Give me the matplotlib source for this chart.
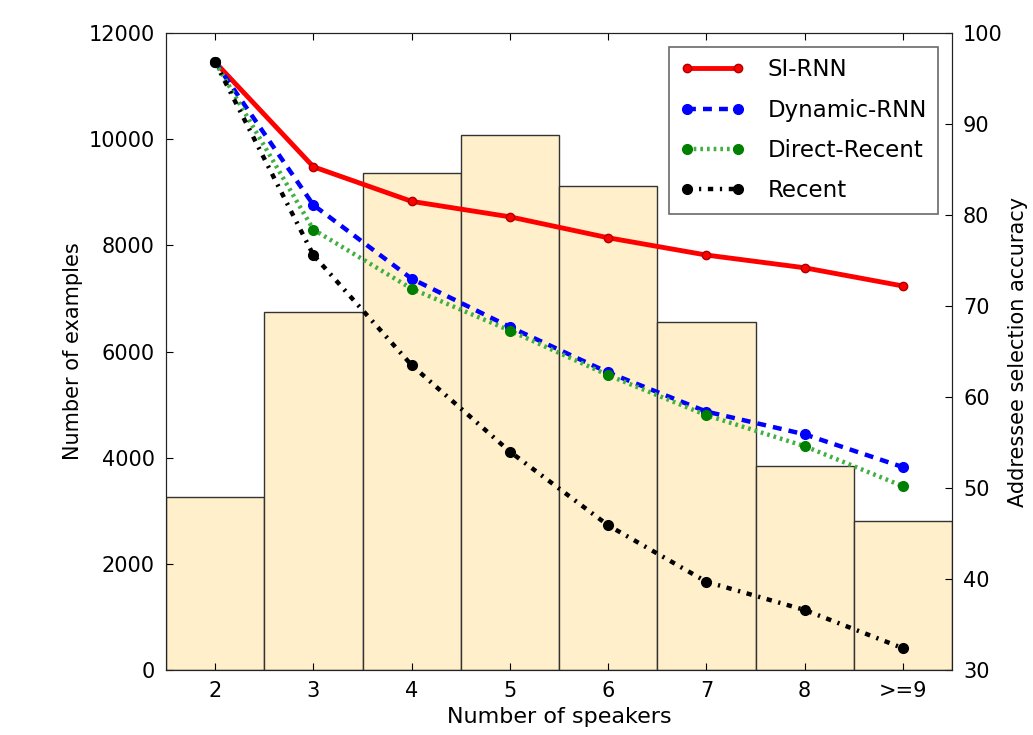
import numpy as np
import matplotlib
matplotlib.use('Agg')
import matplotlib.pyplot as plt

# data
speakers = ['2', '3', '4', '5', '6', '7', '8', '>=9']
n_examples = [3260, 6740, 9360, 10080, 9110, 6550, 3840, 2810]

si_rnn = [96.8, 85.3, 81.5, 79.8, 77.5, 75.6, 74.2, 72.2]
dynamic_rnn = [96.8, 81.1, 73.0, 67.7, 62.7, 58.4, 55.9, 52.3]
direct_recent = [96.8, 78.4, 71.9, 67.3, 62.4, 58.0, 54.6, 50.2]
recent = [96.8, 75.6, 63.5, 54.0, 45.9, 39.7, 36.6, 32.4]

plt.rcParams['font.family'] = ['DejaVu Sans']
plt.rcParams['font.size'] = 15

x = np.arange(2, 2 + len(speakers))

fig = plt.figure(figsize=(10.33, 7.35), dpi=100)
ax = fig.add_axes([0.1607, 0.0884, 0.7609, 0.8667])

ax.bar(x, n_examples, width=1.0, color='#fff0cb', edgecolor='#333333', linewidth=1.0)
ax.set_xlim(1.5, 9.5)
ax.set_ylim(0, 12000)
ax.set_xticks(x)
ax.set_xticklabels(speakers)
ax.set_ylabel('Number of examples', fontsize=15)
ax.set_xlabel('Number of speakers', fontsize=16)
ax.tick_params(direction='in', top=True, length=5, pad=8)

ax2 = ax.twinx()
ax2.plot(x, si_rnn, color='red', linestyle='-', linewidth=3.5, marker='o',
         markersize=6, markeredgecolor='#aa0000', label='SI-RNN')
ax2.plot(x, dynamic_rnn, color='blue', linestyle=(0, (2, 1.6)), linewidth=3.2,
         marker='o', markersize=7, markeredgecolor='blue', label='Dynamic-RNN')
ax2.plot(x, direct_recent, color='#40b040', linestyle=(0, (0.6, 0.9)), linewidth=3.2,
         marker='o', markersize=7, markerfacecolor='green', markeredgecolor='green',
         label='Direct-Recent')
ax2.plot(x, recent, color='black', linestyle=(0, (1.2, 1.5, 0.5, 1.5)), linewidth=3.2,
         marker='o', markersize=7, label='Recent')
ax2.set_ylim(30, 100)
ax2.set_ylabel('Addressee selection accuracy', fontsize=15)
ax2.tick_params(direction='in', length=5, pad=8)

for a in (ax, ax2):
    for s in a.spines.values():
        s.set_color('#222222')

leg = ax2.legend(loc='upper right', numpoints=2, fontsize=16.5, fancybox=False,
                 borderaxespad=0.6, handlelength=2.8, labelspacing=0.76,
                 borderpad=0.5, handletextpad=1.0)
leg.get_frame().set_edgecolor('#444444')
leg.get_frame().set_linewidth(1.2)

fig.savefig('out.png', dpi=100)
